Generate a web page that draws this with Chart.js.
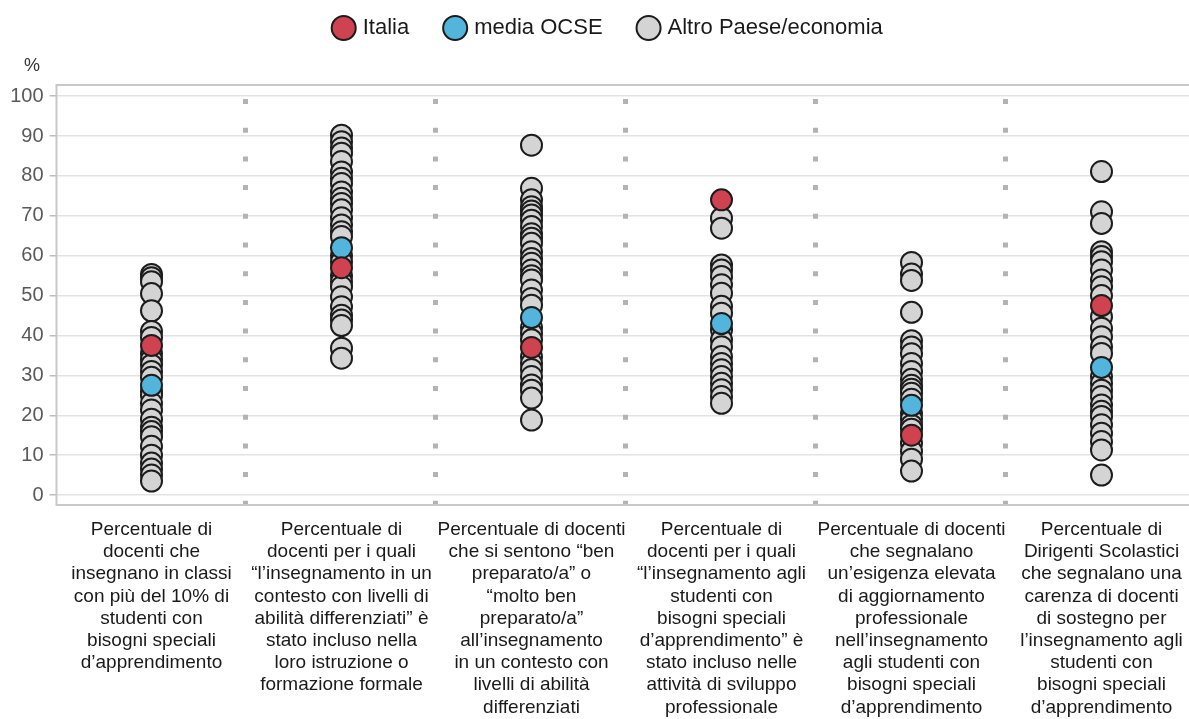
<!DOCTYPE html>
<html><head><meta charset="utf-8">
<script src="https://cdn.jsdelivr.net/npm/chart.js@4.4.1/dist/chart.umd.min.js"></script>
<style>
html,body{margin:0;padding:0;overflow:hidden;background:#fff;width:1189px;height:719px}
#wrap{width:1200px;height:719px}
</style></head>
<body><div id="wrap"><canvas id="c" width="1200" height="719"></canvas></div>
<script>
const categories = [
  ["Percentuale di","docenti che","insegnano in classi","con più del 10% di","studenti con","bisogni speciali","d’apprendimento"],
  ["Percentuale di","docenti per i quali","“l’insegnamento in un","contesto con livelli di","abilità differenziati” è","stato incluso nella","loro istruzione o","formazione formale"],
  ["Percentuale di docenti","che si sentono “ben","preparato/a” o","“molto ben","preparato/a”","all’insegnamento","in un contesto con","livelli di abilità","differenziati"],
  ["Percentuale di","docenti per i quali","“l’insegnamento agli","studenti con","bisogni speciali","d’apprendimento” è","stato incluso nelle","attività di sviluppo","professionale"],
  ["Percentuale di docenti","che segnalano","un’esigenza elevata","di aggiornamento","professionale","nell’insegnamento","agli studenti con","bisogni speciali","d’apprendimento"],
  ["Percentuale di","Dirigenti Scolastici","che segnalano una","carenza di docenti","di sostegno per","l’insegnamento agli","studenti con","bisogni speciali","d’apprendimento"]
];
const seriesNames = ["Italia", "media OCSE", "Altro Paese/economia"];
const yTicks = [0,10,20,30,40,50,60,70,80,90,100];

const italia    = [37.5, 57, 37, 74, 15, 47.5];
const mediaOCSE = [27.5, 62, 44.5, 43, 22.5, 32];

const altro1 = [55.3, 54.5, 53.5, 50.5, 46.2, 41, 39.5, 35.5, 34, 32.6, 31, 29.5, 26, 25, 23, 21.3, 19, 17, 15.9, 14.6, 12.2, 10, 8, 6.5, 5, 3.5];
const altro2 = [90.2, 88.6, 87, 85.7, 83.6, 81, 79.4, 78.1, 76, 74.4, 73.1, 71.5, 69.5, 67.7, 66, 64.8, 60, 58.5, 55, 53.5, 52.2, 49.7, 47.2, 45.1, 43.9, 42.5, 36.8, 34.3];
const altro3 = [87.7, 76.9, 74, 72.3, 71.2, 70.2, 68.9, 67.3, 65.5, 64.4, 63.1, 61, 59.3, 58.1, 56.4, 55, 53.9, 51.4, 49.3, 47.6, 42, 40.5, 38.9, 34.7, 33, 31.5, 29.7, 27.6, 26.3, 24.3, 18.8];
const altro4 = [69.4, 66.9, 57.7, 56.4, 54.8, 52.7, 50.6, 47.3, 45.6, 41.4, 38.9, 37.2, 34.7, 33, 31.4, 29.7, 28, 26.4, 24.7, 23];
const altro5 = [58.3, 55.4, 53.8, 45.8, 38.7, 37.1, 35.4, 33, 31, 29, 27.5, 26.5, 25.5, 24, 20.5, 19, 17.5, 16.5, 13, 11, 9, 6];
const altro6 = [81.1, 71, 68.1, 61, 59.8, 58.5, 56.4, 53.9, 52.2, 50, 44.7, 41.8, 39.7, 37.2, 35.5, 29.7, 28, 26.3, 24.7, 22.6, 21, 19.7, 17.6, 15.5, 13.4, 11.3, 5];
const altroPaese = [altro1, altro2, altro3, altro4, altro5, altro6];

const toPoints = arr => arr.map((v, i) => ({x: i, y: v}));
const altroPoints = [];
altroPaese.forEach((col, i) => col.forEach(v => altroPoints.push({x: i, y: v})));

const framePlugin = {
  id: 'frame',
  afterLayout(chart) {
    if (chart.titleBlock) { chart.titleBlock.left = 24; }
    if (chart.legend) { chart.legend.left += 11; chart.legend.right += 11; }
  },
  beforeDatasetsDraw(chart) {
    const {ctx, chartArea: a, scales: {x}} = chart;
    ctx.save();
    ctx.strokeStyle = '#b3b3b3';
    ctx.lineWidth = 5;
    ctx.setLineDash([5, 23.7]);
    for (let i = 0; i < categories.length - 1; i++) {
      const px = Math.round(x.getPixelForValue(i + 0.5)) - 1.5;
      ctx.beginPath();
      ctx.moveTo(px, a.top + 14);
      ctx.lineTo(px, a.bottom + 1);
      ctx.stroke();
    }
    ctx.setLineDash([]);
    ctx.strokeStyle = '#c8c8c8';
    ctx.lineWidth = 2;
    ctx.strokeRect(a.left, a.top, a.right - a.left + 10, a.bottom - a.top);
    ctx.restore();
  }
};

new Chart(document.getElementById('c'), {
  type: 'scatter',
  data: {
    datasets: [
      {label: seriesNames[0], data: toPoints(italia), backgroundColor: '#cf4350', borderColor: '#1c1c1c'},
      {label: seriesNames[1], data: toPoints(mediaOCSE), backgroundColor: '#53b5dc', borderColor: '#1c1c1c'},
      {label: seriesNames[2], data: altroPoints, backgroundColor: '#d4d4d4', borderColor: '#1c1c1c'}
    ]
  },
  options: {
    responsive: false,
    animation: false,
    devicePixelRatio: 1,
    events: [],
    elements: { point: { radius: 10.5, borderWidth: 2, pointStyle: 'circle' } },
    layout: { autoPadding: false, padding: {top: -21, left: 0, right: 3.5, bottom: 0} },
    plugins: {
      tooltip: {enabled: false},
      legend: {
        position: 'top', align: 'center',
        labels: {
          usePointStyle: true, boxWidth: 16, boxHeight: 17, padding: 38,
          font: {family: '"Liberation Sans", Arial, sans-serif', size: 22}, color: '#1a1a1a'
        }
      },
      title: {
        display: true, text: '%', align: 'start', weight: 500,
        padding: {top: 6, bottom: 8.4},
        font: {family: '"Liberation Sans", Arial, sans-serif', size: 18, weight: 'normal'}, color: '#333'
      }
    },
    scales: {
      x: {
        type: 'linear', min: -0.5, max: 5.5,
        afterBuildTicks: s => { s.ticks = categories.map((c, i) => ({value: i})); },
        afterFit: s => { s.height = 214; },
        grid: {display: false},
        border: {display: false},
        ticks: {
          autoSkip: false, maxRotation: 0, minRotation: 0, padding: 5.5,
          callback: v => categories[v],
          font: {family: '"Liberation Sans", Arial, sans-serif', size: 19, lineHeight: 1.17},
          color: '#1a1a1a'
        }
      },
      y: {
        min: -2.5, max: 102.8,
        afterBuildTicks: s => { s.ticks = yTicks.map(v => ({value: v})); },
        afterFit: s => { s.width = 56.5; },
        grid: {color: '#e3e3e3', lineWidth: 1.5, tickLength: 7, tickColor: '#bdbdbd'},
        border: {display: false},
        ticks: {
          padding: 6,
          font: {family: '"Liberation Sans", Arial, sans-serif', size: 20},
          color: '#595959'
        }
      }
    }
  },
  plugins: [framePlugin]
});
</script>
</body></html>
